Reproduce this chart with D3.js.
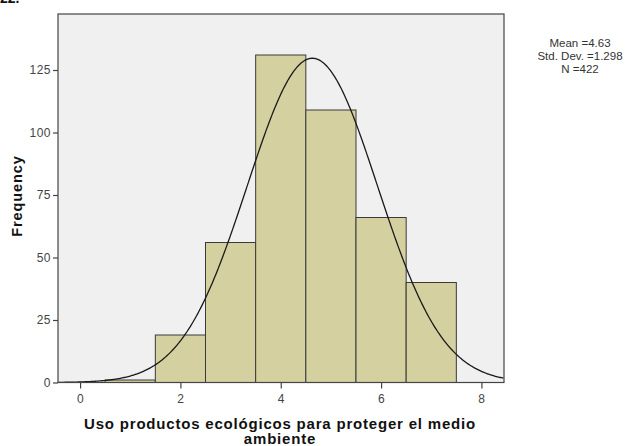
<!DOCTYPE html>
<html>
<head>
<meta charset="utf-8">
<script src="https://cdn.jsdelivr.net/npm/d3@7"></script>
<style>
  body { margin: 0; background: #fff; }
  svg { display: block; font-family: "Liberation Sans", Arial, sans-serif; }
</style>
</head>
<body>
<svg id="chart" width="630" height="446"></svg>
<script>
// histogram bins (midpoints) and counts
const binMids = [1, 2, 3, 4, 5, 6, 7];
const counts = [1, 19, 56, 131, 109, 66, 40];
const xTicks = [0, 2, 4, 6, 8];
const yTicks = [0, 25, 50, 75, 100, 125];
// summary stats shown at right
const mean = 4.63;
const sd = 1.298;
const n = 422;
const statLines = ["Mean =4.63", "Std. Dev. =1.298", "N =422"];

const svg = d3.select("#chart");
const plotLeft = 58, plotTop = 14, plotRight = 504, plotBottom = 382.5;

const x = d3.scaleLinear().domain([-0.44, 8.45]).range([plotLeft, plotRight]);
const y = d3.scaleLinear().domain([0, 147.4]).range([plotBottom, plotTop]);

// plot background
svg.append("rect")
    .attr("x", plotLeft).attr("y", plotTop)
    .attr("width", plotRight - plotLeft).attr("height", plotBottom - plotTop)
    .attr("fill", "#f0f0f0");

// bars
svg.append("g")
    .selectAll("rect")
    .data(binMids)
    .join("rect")
    .attr("x", d => x(d - 0.5))
    .attr("y", (d, i) => y(counts[i]))
    .attr("width", d => x(d + 0.5) - x(d - 0.5))
    .attr("height", (d, i) => plotBottom - y(counts[i]))
    .attr("fill", "#d4d0a0")
    .attr("stroke", "#3a3a3a")
    .attr("stroke-width", 1);

// normal curve from the stats (binwidth 1)
const xs = d3.range(x.domain()[0], x.domain()[1] + 0.001, 0.02);
const normal = v => n / (sd * Math.sqrt(2 * Math.PI)) * Math.exp(-0.5 * Math.pow((v - mean) / sd, 2));
svg.append("path")
    .datum(xs)
    .attr("fill", "none")
    .attr("stroke", "#1a1a1a")
    .attr("stroke-width", 1.3)
    .attr("d", d3.line().x(d => x(d)).y(d => y(normal(d))));

// frame
svg.append("rect")
    .attr("x", plotLeft).attr("y", plotTop)
    .attr("width", plotRight - plotLeft).attr("height", plotBottom - plotTop)
    .attr("fill", "none")
    .attr("stroke", "#444")
    .attr("stroke-width", 1.2);

// axes
const xAxis = svg.append("g")
    .attr("transform", `translate(0, ${plotBottom})`)
    .call(d3.axisBottom(x).tickValues(xTicks).tickSize(6).tickPadding(6))
    .call(g => g.select(".domain").remove());
const yAxis = svg.append("g")
    .attr("transform", `translate(${plotLeft}, 0)`)
    .call(d3.axisLeft(y).tickValues(yTicks).tickSize(5).tickPadding(2))
    .call(g => g.select(".domain").remove());
[xAxis, yAxis].forEach(g => {
    g.selectAll(".tick line").attr("stroke", "#444").attr("stroke-width", 1.2);
    g.selectAll(".tick text")
        .attr("fill", "#444")
        .attr("font-size", 12)
        .attr("letter-spacing", 0.5)
        .attr("font-family", "Liberation Sans, Arial, sans-serif");
});

// axis titles
svg.append("text")
    .attr("transform", "translate(22, 196) rotate(-90)")
    .attr("text-anchor", "middle")
    .attr("font-size", 14.5)
    .attr("font-weight", "bold")
    .attr("fill", "#111")
    .attr("letter-spacing", 0.9)
    .text("Frequency");

svg.append("g")
    .selectAll("text")
    .data(["Uso productos ecológicos para proteger el medio", "ambiente"])
    .join("text")
    .attr("x", 280)
    .attr("y", (d, i) => 429 + i * 15)
    .attr("text-anchor", "middle")
    .attr("font-size", 15)
    .attr("font-weight", "bold")
    .attr("fill", "#111")
    .attr("letter-spacing", 0.8)
    .text(d => d);

// stats box
svg.append("g")
    .selectAll("text")
    .data(statLines)
    .join("text")
    .attr("x", 580)
    .attr("y", (d, i) => 47 + i * 12.8)
    .attr("text-anchor", "middle")
    .attr("font-size", 11.5)
    .attr("fill", "#333")
    .text(d => d);

// cropped caption fragment at top
svg.append("text")
    .attr("x", 0).attr("y", 3)
    .attr("font-size", 14)
    .attr("font-weight", "bold")
    .attr("fill", "#111")
    .text("22.");
</script>
</body>
</html>
